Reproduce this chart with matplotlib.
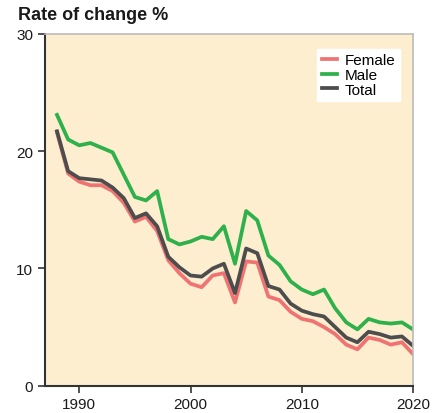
import matplotlib.pyplot as plt

years = list(range(1988, 2021))
female = [21.6, 18.1, 17.4, 17.1, 17.1, 16.6, 15.6, 14.0, 14.4, 13.2, 10.7, 9.6, 8.7, 8.4,
          9.4, 9.6, 7.1, 10.6, 10.5, 7.6, 7.3, 6.3, 5.7, 5.5, 5.0, 4.4, 3.5, 3.1, 4.1, 3.9,
          3.5, 3.7, 2.7]
male = [23.1, 21.0, 20.5, 20.7, 20.3, 19.9, 18.0, 16.1, 15.8, 16.6, 12.5, 12.05, 12.3, 12.7,
        12.5, 13.6, 10.4, 14.9, 14.1, 11.1, 10.3, 8.9, 8.2, 7.8, 8.2, 6.6, 5.4, 4.8, 5.7, 5.4,
        5.3, 5.4, 4.8]
total = [21.7, 18.3, 17.7, 17.6, 17.5, 16.9, 16.0, 14.3, 14.7, 13.6, 11.0, 10.1, 9.4, 9.3,
         10.0, 10.4, 7.9, 11.7, 11.3, 8.5, 8.2, 7.0, 6.4, 6.1, 5.9, 5.0, 4.1, 3.7, 4.6, 4.4,
         4.1, 4.2, 3.4]

plt.rcParams['font.family'] = ['Liberation Sans', 'DejaVu Sans']

fig = plt.figure(figsize=(4.38, 4.14), dpi=100)
ax = fig.add_axes([0.1027, 0.066, 0.8403, 0.8495])
ax.set_facecolor('#fdeed0')

ax.plot(years, female, color='#f07373', lw=2.7, label='Female')
ax.plot(years, male, color='#2eb14b', lw=2.7, label='Male')
ax.plot(years, total, color='#4d4d4d', lw=2.7, label='Total')

ax.set_xlim(1986.92, 2020)
ax.set_ylim(0, 30)
ax.set_xticks([1990, 2000, 2010, 2020])
ax.set_yticks([0, 10, 20, 30])
ax.tick_params(labelsize=11, length=5, width=1.2, color='#333333', labelcolor='#1a1a1a')

for s in ['left', 'bottom']:
    ax.spines[s].set_color('#333333')
    ax.spines[s].set_linewidth(1.5)
for s in ['top', 'right']:
    ax.spines[s].set_color('#bbbbbb')
    ax.spines[s].set_linewidth(1.2)

leg = ax.legend(loc='upper right', fontsize=11, frameon=True, fancybox=False,
                handlelength=1.0, handletextpad=0.5, labelspacing=0.05,
                borderpad=0.3, bbox_to_anchor=(0.986, 0.98))
leg.get_frame().set_facecolor('white')
leg.get_frame().set_edgecolor('white')
leg.get_frame().set_alpha(1)

fig.text(0.04, 0.952, 'Rate of change %', fontsize=13, fontweight='bold', color='#1a1a1a')

fig.savefig('out.png', dpi=100)
